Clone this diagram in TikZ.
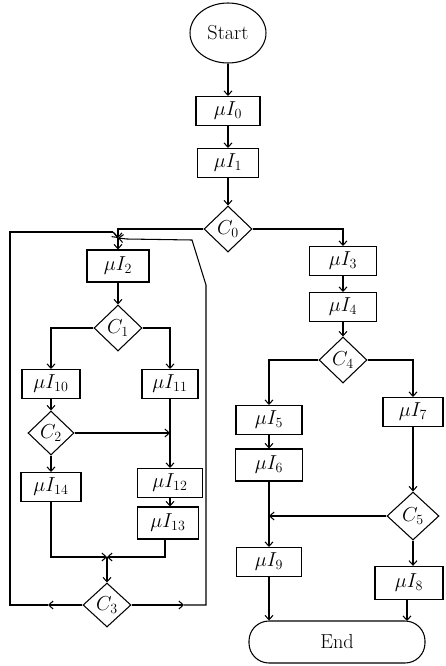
\documentclass[tikz,border=0pt]{standalone}
\usetikzlibrary{shapes.geometric,arrows.meta}
\begin{document}
\begin{tikzpicture}[x=0.3mm,y=-0.3mm,
  every node/.style={font=\LARGE},
  box/.style={draw,line width=0.9pt,rectangle,inner sep=0pt,minimum width=#1*0.3mm,minimum height=8.7mm},
  cond/.style={draw,line width=0.9pt,diamond,aspect=1,inner sep=0pt,minimum width=14.4mm,minimum height=13.8mm},
  line/.style={line width=0.9pt},
  arr/.style={line width=0.9pt,-{Straight Barb[length=1.3mm,width=2.4mm]}}]
\useasboundingbox (0,0) rectangle (446,666);
% nodes
\node[draw,line width=0.9pt,ellipse,minimum width=22.8mm,minimum height=18mm,inner sep=0pt] (start) at (228,33) {Start};
\node[box=64] (mi0) at (228,111) {$\mu I_0$};
\node[box=61] (mi1) at (228,163) {$\mu I_1$};
\node[cond] (c0) at (228,229) {$C_0$};
\node[box=67] (mi3) at (343,261) {$\mu I_3$};
\node[box=67] (mi4) at (343,307) {$\mu I_4$};
\node[cond] (c4) at (343,360) {$C_4$};
\node[box=66] (mi5) at (269,420) {$\mu I_5$};
\node[box=60] (mi7) at (413,412) {$\mu I_7$};
\node[box=67,minimum height=9.6mm] (mi6) at (269,465) {$\mu I_6$};
\node[cond,minimum width=15.6mm,minimum height=14.4mm] (c5) at (413,516) {$C_5$};
\node[box=65] (mi9) at (269,562) {$\mu I_9$};
\node[box=68,minimum height=10mm] (mi8) at (409,583) {$\mu I_8$};
\node[draw,line width=0.9pt,rectangle,rounded corners=6mm,minimum width=52.8mm,minimum height=12.6mm] (end) at (337,642) {End};
\node[box=62,minimum height=9.6mm] (mi2) at (118,266) {$\mu I_2$};
\node[cond] (c1) at (118,328) {$C_1$};
\node[box=58] (mi10) at (51,384) {$\mu I_{10}$};
\node[box=56] (mi11) at (170,384) {$\mu I_{11}$};
\node[cond,minimum width=13.8mm,minimum height=13.2mm] (c2) at (51,433) {$C_2$};
\node[box=65] (mi12) at (170,483) {$\mu I_{12}$};
\node[box=60] (mi14) at (51,487) {$\mu I_{14}$};
\node[box=61,minimum height=9.6mm] (mi13) at (168,523) {$\mu I_{13}$};
\node[cond,minimum width=14.4mm,minimum height=13.2mm] (c3) at (107,605) {$C_3$};
% junctions and bends
\coordinate (jtop) at (118,238);
\coordinate (jright) at (170,433);
\coordinate (jbot) at (107,557);
\coordinate (jmid) at (269,516);
\coordinate (lft) at (48,605);
\coordinate (lcorner) at (10,605);
\coordinate (ltop) at (10,232);
\coordinate (lin) at (113,232);
\coordinate (rgt) at (184,605);
\coordinate (rcorner) at (206,605);
\coordinate (rbend) at (206,285);
\coordinate (rtop) at (192,240);
\coordinate (rin) at (127,239);
\coordinate (e8) at (407,621);
% connectors
\draw[arr] (start) -- (mi0);
\draw[arr] (mi0) -- (mi1);
\draw[arr] (mi1) -- (c0);
\draw[arr] (c0.east) -| (mi3.north);
\draw[arr] (mi3) -- (mi4);
\draw[arr] (mi4) -- (c4);
\draw[arr] (c4.west) -| (mi5.north);
\draw[arr] (c4.east) -| (mi7.north);
\draw[arr] (mi5) -- (mi6);
\draw[line] (mi6.south) -- (jmid);
\draw[arr] (c5.west) -- (jmid);
\draw[arr] (jmid) -- (mi9.north);
\draw[arr] (mi7) -- (c5);
\draw[arr] (c5) -- (mi8.north -| c5);
\draw[arr] (mi9.south) -- (mi9.south |- end.north);
\draw[arr] (mi8.south -| e8) -- (e8);
% left loop
\draw[arr] (c0.west) -| (jtop);
\draw[arr] (jtop) -- (mi2);
\draw[arr] (mi2) -- (c1);
\draw[arr] (c1.west) -| (mi10.north);
\draw[arr] (c1.east) -| (mi11.north);
\draw[arr] (mi10) -- (c2);
\draw[arr] (c2.east) -- (jright);
\draw[line] (mi11.south) -- (jright);
\draw[arr] (jright) -- (mi12.north);
\draw[arr] (c2) -- (mi14);
\draw[arr] (mi12.south) -- (mi13.north -| mi12);
\draw[arr] (mi14.south) |- (jbot);
\draw[arr] (mi13.south -| 165,0) |- (jbot);
\draw[arr] (jbot) -- (c3);
\draw[arr] (c3.west) -- (lft);
\draw[line] (lft) -- (lcorner) -- (ltop) -- (lin);
\draw[arr] (lin) -- (jtop);
\draw[arr] (c3.east) -- (rgt);
\draw[line] (rgt) -- (rcorner) -- (rbend) -- (rtop) -- (rin);
\draw[arr] (rin) -- (jtop);
\end{tikzpicture}
\end{document}
